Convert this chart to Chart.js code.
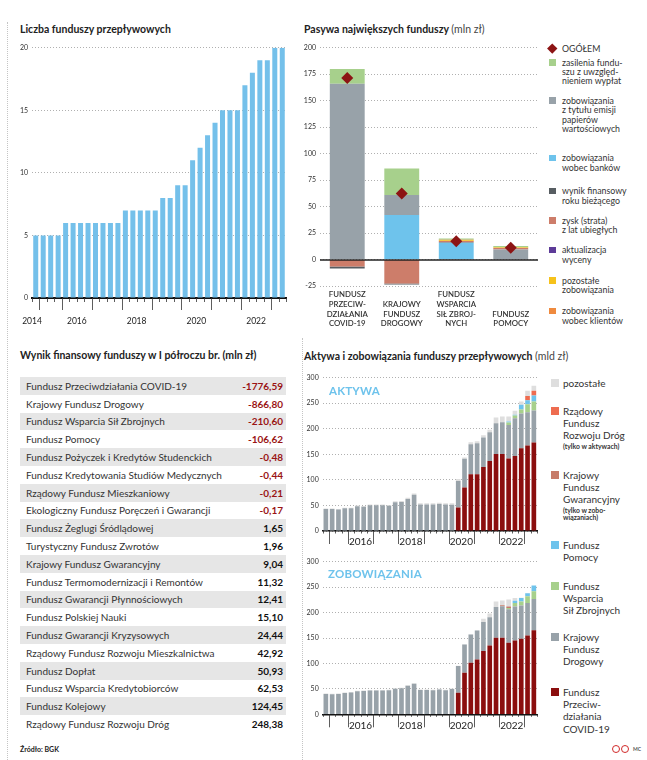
<!DOCTYPE html>
<html lang="pl">
<head>
<meta charset="utf-8">
<title>Fundusze przepływowe</title>
<script src="https://cdn.jsdelivr.net/npm/chart.js@4.4.1/dist/chart.umd.min.js"></script>
<style>
  html, body { margin: 0; padding: 0; background: #fff; }
  body { width: 647px; height: 760px; position: relative; overflow: hidden; font-family: Lato, "Noto Sans", sans-serif; color: #222; }
  .box { position: absolute; }
  .title { position: absolute; font-size: 10.5px; font-weight: 700; white-space: nowrap; line-height: 12px; }
  .title .unit { font-weight: 400; color: #444; }
  .vline { position: absolute; width: 0; border-left: 1px dotted #c4c4c4; }
  .tag { position: absolute; font-size: 11.5px; font-weight: 700; color: #6ec3ec; letter-spacing: 0.2px; z-index: 2; }
  .row { height: 17.8px; display: flex; justify-content: space-between; align-items: center; padding: 0 3px 0 6px; font-size: 10px; color: #333; }
  .row.odd { background: #e6e6e6; }
  .row b { color: #111; }
  .row b.neg { color: #9a1414; }
  .lg { color: #333; }
  .note { font-size: 6.8px; font-weight: 700; line-height: 7px; margin-top: 1px; }
  .src { position: absolute; left: 20px; top: 745px; font-size: 7px; font-weight: 700; }
  .mc { position: absolute; left: 633px; top: 746px; font-size: 5px; font-weight: 700; color: #555; }
  .cc { position: absolute; top: 745px; width: 6px; height: 6px; border: 1.3px solid #d12a2a; border-radius: 50%; }
</style>
</head>
<body>
<div class="vline" style="left:7px;top:22px;height:738px"></div>
<div class="vline" style="left:302px;top:338px;height:422px"></div>

<div class="title" style="left:20px;top:23px">Liczba funduszy przepływowych</div>
<div class="box" style="left:0;top:38px;width:300px;height:300px"><canvas id="count"></canvas></div>

<div class="title" style="left:304px;top:23px">Pasywa największych funduszy <span class="unit">(mln zł)</span></div>
<div class="box" style="left:300px;top:38px;width:245px;height:300px"><canvas id="pasywa"></canvas></div>
<div id="legP" class="box" style="left:548px;top:0;width:99px;height:335px"></div>

<div class="title" style="left:20px;top:349px">Wynik finansowy funduszy w I półroczu br. (mln zł)</div>
<div id="tbl" class="box" style="left:20px;top:377px;width:266px"></div>

<div class="title" style="left:304px;top:350px">Aktywa i zobowiązania funduszy przepływowych <span class="unit">(mld zł)</span></div>
<div class="box" style="left:300px;top:365px;width:245px;height:190px"><canvas id="aktywa"></canvas></div>
<div class="box" style="left:300px;top:550px;width:245px;height:190px"><canvas id="zobow"></canvas></div>
<div class="tag" style="left:329px;top:384px">AKTYWA</div>
<div class="tag" style="left:328px;top:567px">ZOBOWIĄZANIA</div>
<div id="legA" class="box" style="left:548px;top:0;width:99px;height:745px"></div>

<div class="src">Źródło: BGK</div>
<div class="cc" style="left:612px"></div>
<div class="cc" style="left:621px"></div>
<div class="mc">MC</div>

<script>
// ---- data ----
const quarters = [
  '2015 Q1', '2015 Q2', '2015 Q3', '2015 Q4', '2016 Q1', '2016 Q2', '2016 Q3', '2016 Q4',
  '2017 Q1', '2017 Q2', '2017 Q3', '2017 Q4', '2018 Q1', '2018 Q2', '2018 Q3', '2018 Q4',
  '2019 Q1', '2019 Q2', '2019 Q3', '2019 Q4', '2020 Q1', '2020 Q2', '2020 Q3', '2020 Q4',
  '2021 Q1', '2021 Q2', '2021 Q3', '2021 Q4', '2022 Q1', '2022 Q2', '2022 Q3', '2022 Q4',
  '2023 Q1', '2023 Q2'
];
const yearLabelsTop = ['2014', '2016', '2018', '2020', '2022'];
const yearLabelsBottom = ['2016', '2018', '2020', '2022'];

const fundCount = [5, 5, 5, 5, 6, 6, 6, 6, 6, 6, 6, 6, 7, 7, 7, 7, 7, 8, 8, 9, 9,
  11, 12, 13, 14, 15, 15, 15, 17, 18, 19, 19, 20, 20];

// Pasywa największych funduszy
const pasywaFunds = [
  ['FUNDUSZ', 'PRZECIW-', 'DZIAŁANIA', 'COVID-19'],
  ['KRAJOWY', 'FUNDUSZ', 'DROGOWY'],
  ['FUNDUSZ', 'WSPARCIA', 'SIŁ ZBROJ-', 'NYCH'],
  ['FUNDUSZ', 'POMOCY']
];
const ogolem = [171.5, 62.3, 17.3, 11];
const zasilenia = [14, 25, 1.2, 1.2];
const emisja = [166, 19, 1, 9.5];
const banki = [0, 42, 15.5, 0];
const wynikBiezacy = [-1.78, -0.87, -0.21, -0.11];
const zyskLatUbieglych = [-6.7, -22.6, 1, 1.3];
const aktualizacja = [0, 0, 0, 0];
const pozostaleZob = [0, 0, 0.8, 0.6];
const zobKlienci = [0, 0, 0.3, 0.2];

// Wynik finansowy w I półroczu (mln zł)
const tableFunds = [
  'Fundusz Przeciwdziałania COVID-19', 'Krajowy Fundusz Drogowy', 'Fundusz Wsparcia Sił Zbrojnych',
  'Fundusz Pomocy', 'Fundusz Pożyczek i Kredytów Studenckich', 'Fundusz Kredytowania Studiów Medycznych',
  'Rządowy Fundusz Mieszkaniowy', 'Ekologiczny Fundusz Poręczeń i Gwarancji', 'Fundusz Żeglugi Śródlądowej',
  'Turystyczny Fundusz Zwrotów', 'Krajowy Fundusz Gwarancyjny', 'Fundusz Termomodernizacji i Remontów',
  'Fundusz Gwarancji Płynnościowych', 'Fundusz Polskiej Nauki', 'Fundusz Gwarancji Kryzysowych',
  'Rządowy Fundusz Rozwoju Mieszkalnictwa', 'Fundusz Dopłat', 'Fundusz Wsparcia Kredytobiorców',
  'Fundusz Kolejowy', 'Rządowy Fundusz Rozwoju Dróg'
];
const tableResults = [-1776.59, -866.80, -210.60, -106.62, -0.48, -0.44, -0.21, -0.17, 1.65, 1.96,
  9.04, 11.32, 12.41, 15.10, 24.44, 42.92, 50.93, 62.53, 124.45, 248.38];

// Aktywa (mld zł)
const covidA = [null, null, null, null, null, null, null, null, null, null, null, null, null, null, null, null, null, null, null, null, null,
  45.7, 84.8, 111, 111, 125, 137, 150.7, 150.7, 141.6, 146.8, 161.8, 167, 172.9];
const kfdA = [43, 43, 42, 44.5, 44.5, 48.5, 47.5, 50.5, 50.5, 50.5, 49.5, 56, 56.5, 62.5, 71, 52, 52, 52, 53, 52, 51.5,
  52.1, 56.2, 58.6, 60.6, 57.6, 56, 60, 61.9, 65.8, 73.7, 67.8, 65, 62.6];
const fwszA = [null, null, null, null, null, null, null, null, null, null, null, null, null, null, null, null, null, null, null, null, null,
  null, null, null, null, null, null, null, null, 4.6, 5.2, 7.8, 15.9, 17.5];
const fpA = [null, null, null, null, null, null, null, null, null, null, null, null, null, null, null, null, null, null, null, null, null,
  null, null, null, null, null, null, null, null, 2, 1.5, 9.2, 7.8, 11.8];
const kfgA = new Array(34).fill(null);
const rfrdA = [null, null, null, null, null, null, null, null, null, null, null, null, null, null, null, null, null, null, null, null, null,
  null, null, null, null, null, null, null, null, null, null, null, 8.3, 9.2];
const pozA = [1, 1, 1, 1, 1, 1.5, 1.5, 1.5, 1.5, 1.5, 1.5, 2, 2, 2.5, 2.5, 2, 2, 2, 2, 2, 2.5,
  4, 2.5, 3.9, 3.9, 4.4, 5, 11.1, 11.1, 9.7, 7.6, 6.4, 10, 9.8];

// Zobowiązania (mld zł)
const covidZ = [null, null, null, null, null, null, null, null, null, null, null, null, null, null, null, null, null, null, null, null, null,
  42.5, 81.7, 101.3, 107.8, 124.2, 135.3, 150.3, 150.3, 140.5, 145, 148.4, 155, 165.4];
const kfdZ = [40, 39.6, 40, 42, 43, 45.5, 46, 47, 47, 47, 47.5, 50, 51, 56, 60, 48, 48, 47.5, 49, 47.5, 49.5,
  52.3, 55.3, 55.6, 56.9, 57.5, 55.5, 60.7, 62.1, 66, 66.8, 65.3, 64, 61.4];
const fwszZ = [null, null, null, null, null, null, null, null, null, null, null, null, null, null, null, null, null, null, null, null, null,
  null, null, null, null, null, null, null, null, 2.5, 7.2, 8.3, 13, 15];
const fpZ = [null, null, null, null, null, null, null, null, null, null, null, null, null, null, null, null, null, null, null, null, null,
  null, null, null, null, null, null, null, null, null, 4, 6.8, 6, 11.2];
const kfgZ = [null, null, null, null, null, null, null, null, null, null, null, null, null, null, null, null, null, null, null, null, null,
  null, null, null, null, null, null, null, 2, 3, null, null, null, null];
const rfrdZ = new Array(34).fill(null);
const pozZ = [1, 1, 1, 1, 1, 1, 1, 1, 1, 1, 1, 1, 1, 1, 1, 1, 1, 1, 1, 1, 1,
  0.5, 0.5, 0.5, 0.5, 5.9, 7.2, 11, 9.1, 13.5, 5.8, 0.5, 0.5, 0];

// ---- colours ----
const C = {
  count: '#74c0ea', covid: '#8b0e0e', kfd: '#98a2a9', fwsz: '#a7d08c', fp: '#6ec3ec',
  kfg: '#c77b68', rfrd: '#ee6c50', poz: '#dedede',
  ogolem: '#8c1414', zasilenia: '#a7d08c', emisja: '#98a2a9', banki: '#6ec3ec', wynik: '#575d62',
  zysk: '#cd7d6a', aktualizacja: '#5d3b98', pozostale: '#f6c21b', klienci: '#ef8a3e'
};

Chart.defaults.font.family = 'Lato, "Noto Sans", sans-serif';
Chart.defaults.color = '#222';

const xy = arr => arr.map((v, i) => ({ x: i, y: v }));
const qPos = q => quarters.indexOf(q);

// year label sits between Q2 and Q3; the first label sits at the left edge
const yearPos = y => (qPos(y + ' Q2') < 0 ? -0.5 : qPos(y + ' Q2') + 0.5);
const yearStarts = [0.5].concat(quarters.filter(q => q.endsWith('Q1') && qPos(q) > 0).map(q => qPos(q) - 0.5));

const quarterTicks = {
  id: 'quarterTicks',
  afterDraw(chart, args, opts) {
    const x = chart.scales.x, y0 = chart.chartArea.bottom, ctx = chart.ctx;
    ctx.save();
    ctx.strokeStyle = '#333';
    ctx.lineWidth = 0.8;
    for (let k = 0; k <= quarters.length; k++) {
      const v = k - 0.5;
      const len = yearStarts.includes(v) ? opts.longLen : opts.shortLen;
      const px = Math.round(x.getPixelForValue(v)) + 0.5;
      ctx.beginPath();
      ctx.moveTo(px, y0);
      ctx.lineTo(px, y0 + len);
      ctx.stroke();
    }
    ctx.restore();
  }
};

const zeroLine = {
  id: 'zeroLine',
  afterDatasetsDraw(chart) {
    const y = Math.round(chart.scales.y.getPixelForValue(0)), a = chart.chartArea, ctx = chart.ctx;
    ctx.save();
    ctx.strokeStyle = '#222';
    ctx.lineWidth = 1.6;
    ctx.beginPath();
    ctx.moveTo(a.left, y);
    ctx.lineTo(a.right, y);
    ctx.stroke();
    ctx.restore();
  }
};

function quarterAxis(labels, fontSize, pad, height, borderW) {
  const pos = labels.map(yearPos);
  return {
    type: 'linear', min: -0.5, max: quarters.length - 0.5, offset: false, stacked: true,
    afterBuildTicks: ax => { ax.ticks = pos.map(v => ({ value: v })); },
    ticks: {
      autoSkip: false, maxRotation: 0, padding: pad, color: '#222',
      font: { size: fontSize },
      callback: v => labels[pos.indexOf(v)] || ''
    },
    grid: { display: false, drawTicks: false },
    border: { display: true, color: '#111', width: borderW },
    afterFit: s => { s.height = height; }
  };
}

function valueAxis(min, max, step, width) {
  return {
    min, max, stacked: true,
    ticks: { stepSize: step, padding: 4, color: '#333', font: { size: 7 } },
    grid: { color: '#9c9c9c', lineWidth: 0.8, drawTicks: false },
    border: { display: false, dash: [1, 2] },
    afterFit: s => { s.width = width; }
  };
}

const base = {
  responsive: true, maintainAspectRatio: false, animation: false,
  events: []
};

// ---- Liczba funduszy ----
new Chart(document.getElementById('count'), {
  type: 'bar',
  data: { datasets: [{ data: xy(fundCount), backgroundColor: C.count, barPercentage: 0.67, categoryPercentage: 1 }] },
  options: {
    ...base,
    layout: { padding: { top: 9.7, right: 14, bottom: 0, left: 0 } },
    scales: {
      x: quarterAxis(yearLabelsTop, 8.5, 18, 40, 2),
      y: valueAxis(0, 20, 5, 32)
    },
    plugins: { legend: { display: false }, tooltip: { enabled: false }, quarterTicks: { longLen: 12, shortLen: 4 } }
  },
  plugins: [quarterTicks]
});

// ---- Pasywa ----
const barP = (label, data, color) => ({ label, data, backgroundColor: color, barPercentage: 0.64, categoryPercentage: 1, stack: 'p' });
new Chart(document.getElementById('pasywa'), {
  type: 'bar',
  data: {
    labels: pasywaFunds.map(l => l.join(' ')),
    datasets: [
      { type: 'line', label: 'OGÓŁEM', data: ogolem, showLine: false, pointStyle: 'rectRot', pointRadius: 6,
        backgroundColor: C.ogolem, borderColor: C.ogolem, borderWidth: 0, stack: 'o' },
      barP('zobowiązania wobec banków', banki, C.banki),
      barP('zobowiązania z tytułu emisji papierów wartościowych', emisja, C.emisja),
      barP('zysk (strata) z lat ubiegłych', zyskLatUbieglych, C.zysk),
      barP('wynik finansowy roku bieżącego', wynikBiezacy, C.wynik),
      barP('aktualizacja wyceny', aktualizacja, C.aktualizacja),
      barP('pozostałe zobowiązania', pozostaleZob, C.pozostale),
      barP('zobowiązania wobec klientów', zobKlienci, C.klienci),
      barP('zasilenia funduszu z uwzględnieniem wypłat', zasilenia, C.zasilenia)
    ]
  },
  options: {
    ...base,
    layout: { padding: { top: 9.7, right: 7, bottom: 0, left: 0 } },
    scales: {
      x: {
        stacked: true,
        ticks: {
          autoSkip: false, maxRotation: 0, padding: 4, color: '#333',
          font: { size: 7.8, weight: '600', lineHeight: 1.24 },
          callback: (v, i) => new Array(4 - pasywaFunds[i].length).fill('').concat(pasywaFunds[i])
        },
        grid: { display: false, drawTicks: false },
        border: { display: false },
        afterFit: s => { s.height = 52; }
      },
      y: valueAxis(-25, 200, 25, 20)
    },
    plugins: { legend: { display: false }, tooltip: { enabled: false } }
  },
  plugins: [zeroLine]
});

// ---- Aktywa / Zobowiązania ----
function stackChart(id, series, padTop, xHeight) {
  const names = ['Fundusz Przeciwdziałania COVID-19', 'Krajowy Fundusz Drogowy', 'Fundusz Wsparcia Sił Zbrojnych',
    'Fundusz Pomocy', 'Krajowy Fundusz Gwarancyjny', 'Rządowy Fundusz Rozwoju Dróg', 'pozostałe'];
  const colors = [C.covid, C.kfd, C.fwsz, C.fp, C.kfg, C.rfrd, C.poz];
  new Chart(document.getElementById(id), {
    type: 'bar',
    data: {
      datasets: series.map((s, k) => ({
        label: names[k], data: xy(s), backgroundColor: colors[k],
        barPercentage: 0.74, categoryPercentage: 1
      }))
    },
    options: {
      ...base,
      layout: { padding: { top: padTop, right: 8, bottom: 0, left: 0 } },
      scales: {
        x: quarterAxis(yearLabelsBottom, 10, 5, xHeight, 1.5),
        y: valueAxis(0, 300, 50, 22.7)
      },
      plugins: { legend: { display: false }, tooltip: { enabled: false }, quarterTicks: { longLen: 13, shortLen: 2.5 } }
    },
    plugins: [quarterTicks]
  });
}
stackChart('aktywa', [covidA, kfdA, fwszA, fpA, kfgA, rfrdA, pozA], 12.5, 24);
stackChart('zobow', [covidZ, kfdZ, fwszZ, fpZ, kfgZ, rfrdZ, pozZ], 11.7, 25.7);

// ---- table ----
const fmt = v => v.toFixed(2).replace('.', ',');
const tbl = document.getElementById('tbl');
tableFunds.forEach((name, k) => {
  const r = document.createElement('div');
  r.className = 'row' + (k % 2 === 0 ? ' odd' : '');
  r.innerHTML = '<span>' + name + '</span><b class="' + (tableResults[k] < 0 ? 'neg' : '') + '">' + fmt(tableResults[k]) + '</b>';
  tbl.appendChild(r);
});

// ---- legends ----
function buildLegend(el, items, tops, o) {
  items.forEach((it, k) => {
    const d = document.createElement('div');
    d.className = 'lg';
    d.style.cssText = 'position:absolute;left:0;top:' + tops[k] + 'px;font-size:' + o.font + 'px;line-height:' + o.lh + 'px;';
    const sw = document.createElement('span');
    sw.style.cssText = 'position:absolute;left:' + o.swLeft + 'px;top:' + ((o.lh - o.sw) / 2) + 'px;width:' + o.sw +
      'px;height:' + o.sw + 'px;background:' + it.color + ';' + (it.diamond ? 'transform:rotate(45deg) scale(1.05);' : '');
    d.appendChild(sw);
    const t = document.createElement('div');
    t.style.cssText = 'margin-left:' + o.textLeft + 'px;white-space:nowrap;';
    t.innerHTML = it.lines.join('<br>') + (it.note ? '<div class="note">' + it.note.join('<br>') + '</div>' : '');
    d.appendChild(t);
    el.appendChild(d);
  });
}

const pasywaLegend = [
  { lines: ['OGÓŁEM'], color: C.ogolem, diamond: true },
  { lines: ['zasilenia fundu-', 'szu z uwzględ-', 'nieniem wypłat'], color: C.zasilenia },
  { lines: ['zobowiązania', 'z tytułu emisji', 'papierów', 'wartościowych'], color: C.emisja },
  { lines: ['zobowiązania', 'wobec banków'], color: C.banki },
  { lines: ['wynik finansowy', 'roku bieżącego'], color: C.wynik },
  { lines: ['zysk (strata)', 'z lat ubiegłych'], color: C.zysk },
  { lines: ['aktualizacja', 'wyceny'], color: C.aktualizacja },
  { lines: ['pozostałe', 'zobowiązania'], color: C.pozostale },
  { lines: ['zobowiązania', 'wobec klientów'], color: C.klienci }
];
buildLegend(document.getElementById('legP'), pasywaLegend,
  [43.7, 57.7, 96, 153.3, 186.3, 216, 245.3, 276, 306.3],
  { font: 8.8, lh: 9.3, sw: 6.5, swLeft: 1, textLeft: 14 });

const fundsLegend = [
  { lines: ['pozostałe'], color: C.poz },
  { lines: ['Rządowy', 'Fundusz', 'Rozwoju Dróg'], note: ['(tylko w aktywach)'], color: C.rfrd },
  { lines: ['Krajowy', 'Fundusz', 'Gwarancyjny'], note: ['(tylko w zobo-', 'wiązaniach)'], color: C.kfg },
  { lines: ['Fundusz', 'Pomocy'], color: C.fp },
  { lines: ['Fundusz', 'Wsparcia', 'Sił Zbrojnych'], color: C.fwsz },
  { lines: ['Krajowy', 'Fundusz', 'Drogowy'], color: C.kfd },
  { lines: ['Fundusz', 'Przeciw-', 'działania', 'COVID-19'], color: C.covid }
];
buildLegend(document.getElementById('legA'), fundsLegend,
  [377, 405, 469, 539, 580, 631, 686],
  { font: 10, lh: 12.2, sw: 7.5, swLeft: 3, textLeft: 15 });
</script>
</body>
</html>
